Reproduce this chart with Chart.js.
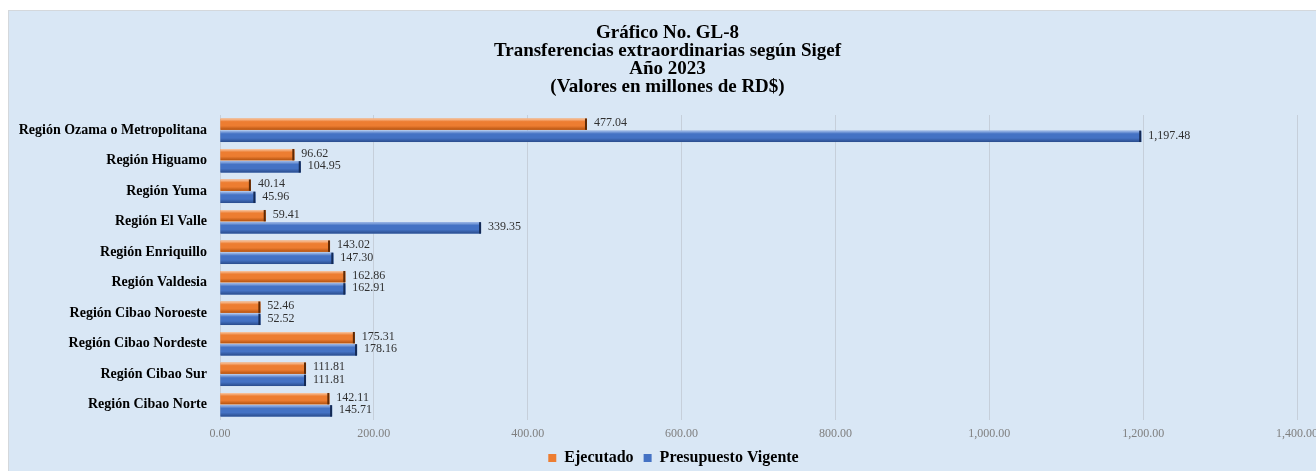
<!DOCTYPE html>
<html>
<head>
<meta charset="utf-8">
<script src="https://cdn.jsdelivr.net/npm/chart.js@4"></script>
<style>
  html, body { margin:0; padding:0; background:#ffffff; overflow:hidden; }
  #bg { position:absolute; left:8px; top:10px; width:1320px; height:470px;
        background:#d9e7f5; border:1px solid #d4d8dc; }
  #c { position:absolute; left:0; top:0; }
</style>
</head>
<body>
<div id="bg"></div>
<canvas id="c" width="1316" height="471"></canvas>
<script>
const categories = [
  "Región Ozama o Metropolitana",
  "Región Higuamo",
  "Región Yuma",
  "Región El Valle",
  "Región Enriquillo",
  "Región Valdesia",
  "Región Cibao Noroeste",
  "Región Cibao Nordeste",
  "Región Cibao Sur",
  "Región Cibao Norte"
];
const ejecutado = [477.04, 96.62, 40.14, 59.41, 143.02, 162.86, 52.46, 175.31, 111.81, 142.11];
const presupuestoVigente = [1197.48, 104.95, 45.96, 339.35, 147.30, 162.91, 52.52, 178.16, 111.81, 145.71];
const seriesNames = ["Ejecutado", "Presupuesto Vigente"];
const titleLines = [
  "Gráfico No. GL-8",
  "Transferencias extraordinarias según Sigef",
  "Año 2023",
  "(Valores en millones de RD$)"
];
const xMin = 0, xMax = 1400, xStep = 200;

const SERIF = "'Liberation Serif', 'Times New Roman', serif";
const fmt = v => Number(v).toLocaleString('en-US', {minimumFractionDigits: 2, maximumFractionDigits: 2});

const styles = [
  {light:'#f9c9a6', mid:'#ed7d31', dark:'#b3520f', edge:'#5e2905'},
  {light:'#a3bde9', mid:'#4472c4', dark:'#2a4c8c', edge:'#142a55'}
];

const boxShift = {
  id: 'boxShift',
  afterLayout(chart) {
    if (chart.legend) { chart.legend.left += 25; chart.legend.right += 25; }
    if (chart.titleBlock) { chart.titleBlock.left += 19; chart.titleBlock.right += 19; }
  }
};

const barPainter = {
  id: 'barPainter',
  afterDatasetsDraw(chart) {
    const ctx = chart.ctx;
    ctx.save();
    chart.data.datasets.forEach((ds, di) => {
      const meta = chart.getDatasetMeta(di);
      const st = styles[di];
      meta.data.forEach((el) => {
        const p = el.getProps(['x', 'y', 'base', 'height'], true);
        const top = p.y - p.height / 2;
        const g = ctx.createLinearGradient(0, top, 0, top + p.height);
        g.addColorStop(0, st.light);
        g.addColorStop(0.28, st.mid);
        g.addColorStop(0.65, st.mid);
        g.addColorStop(1, st.dark);
        ctx.fillStyle = g;
        ctx.fillRect(p.base, top, p.x - p.base, p.height);
        ctx.fillStyle = st.edge;
        ctx.fillRect(p.x - 2, top, 2, p.height);
      });
    });
    ctx.font = "12px " + SERIF;
    ctx.fillStyle = '#303030';
    ctx.textAlign = 'left';
    ctx.textBaseline = 'middle';
    chart.data.datasets.forEach((ds, di) => {
      const meta = chart.getDatasetMeta(di);
      meta.data.forEach((el, i) => {
        const p = el.getProps(['x', 'y'], true);
        ctx.fillText(fmt(ds.data[i]), p.x + 7, p.y - 1);
      });
    });
    ctx.restore();
  }
};

new Chart(document.getElementById('c'), {
  type: 'bar',
  data: {
    labels: categories,
    datasets: [
      { label: seriesNames[0], data: ejecutado, backgroundColor: styles[0].mid,
        barPercentage: 0.93, categoryPercentage: 0.8 },
      { label: seriesNames[1], data: presupuestoVigente, backgroundColor: styles[1].mid,
        barPercentage: 0.93, categoryPercentage: 0.8 }
    ]
  },
  options: {
    indexAxis: 'y',
    responsive: false,
    animation: false,
    devicePixelRatio: 1,
    layout: { padding: { left: 0, right: 19, top: 0, bottom: -5 } },
    plugins: {
      title: {
        display: true,
        text: titleLines,
        color: '#000000',
        font: { family: SERIF, size: 19, weight: 'bold', lineHeight: '18px' },
        padding: { top: 24, bottom: 19 }
      },
      legend: {
        position: 'bottom',
        labels: {
          boxWidth: 8, boxHeight: 8, padding: 10, color: '#000000',
          font: { family: SERIF, size: 16, weight: 'bold' }
        }
      },
      tooltip: { enabled: false }
    },
    scales: {
      x: {
        min: xMin, max: xMax,
        ticks: {
          stepSize: xStep,
          callback: v => fmt(v),
          color: '#7f7f7f',
          font: { family: SERIF, size: 12 },
          padding: 7,
          maxRotation: 0
        },
        grid: { color: 'rgba(185,192,200,0.6)', drawTicks: false },
        border: { display: false },
        afterFit(s) { s.height = 20; s.paddingLeft = 0; s.paddingRight = 0; }
      },
      y: {
        ticks: {
          color: '#000000',
          font: { family: SERIF, size: 14, weight: 'bold' },
          padding: 13
        },
        grid: { display: false, drawTicks: false },
        border: { display: false },
        afterFit(s) { s.width = 220; s.paddingTop = 0; s.paddingBottom = 0; }
      }
    }
  },
  plugins: [boxShift, barPainter]
});
</script>
</body>
</html>
